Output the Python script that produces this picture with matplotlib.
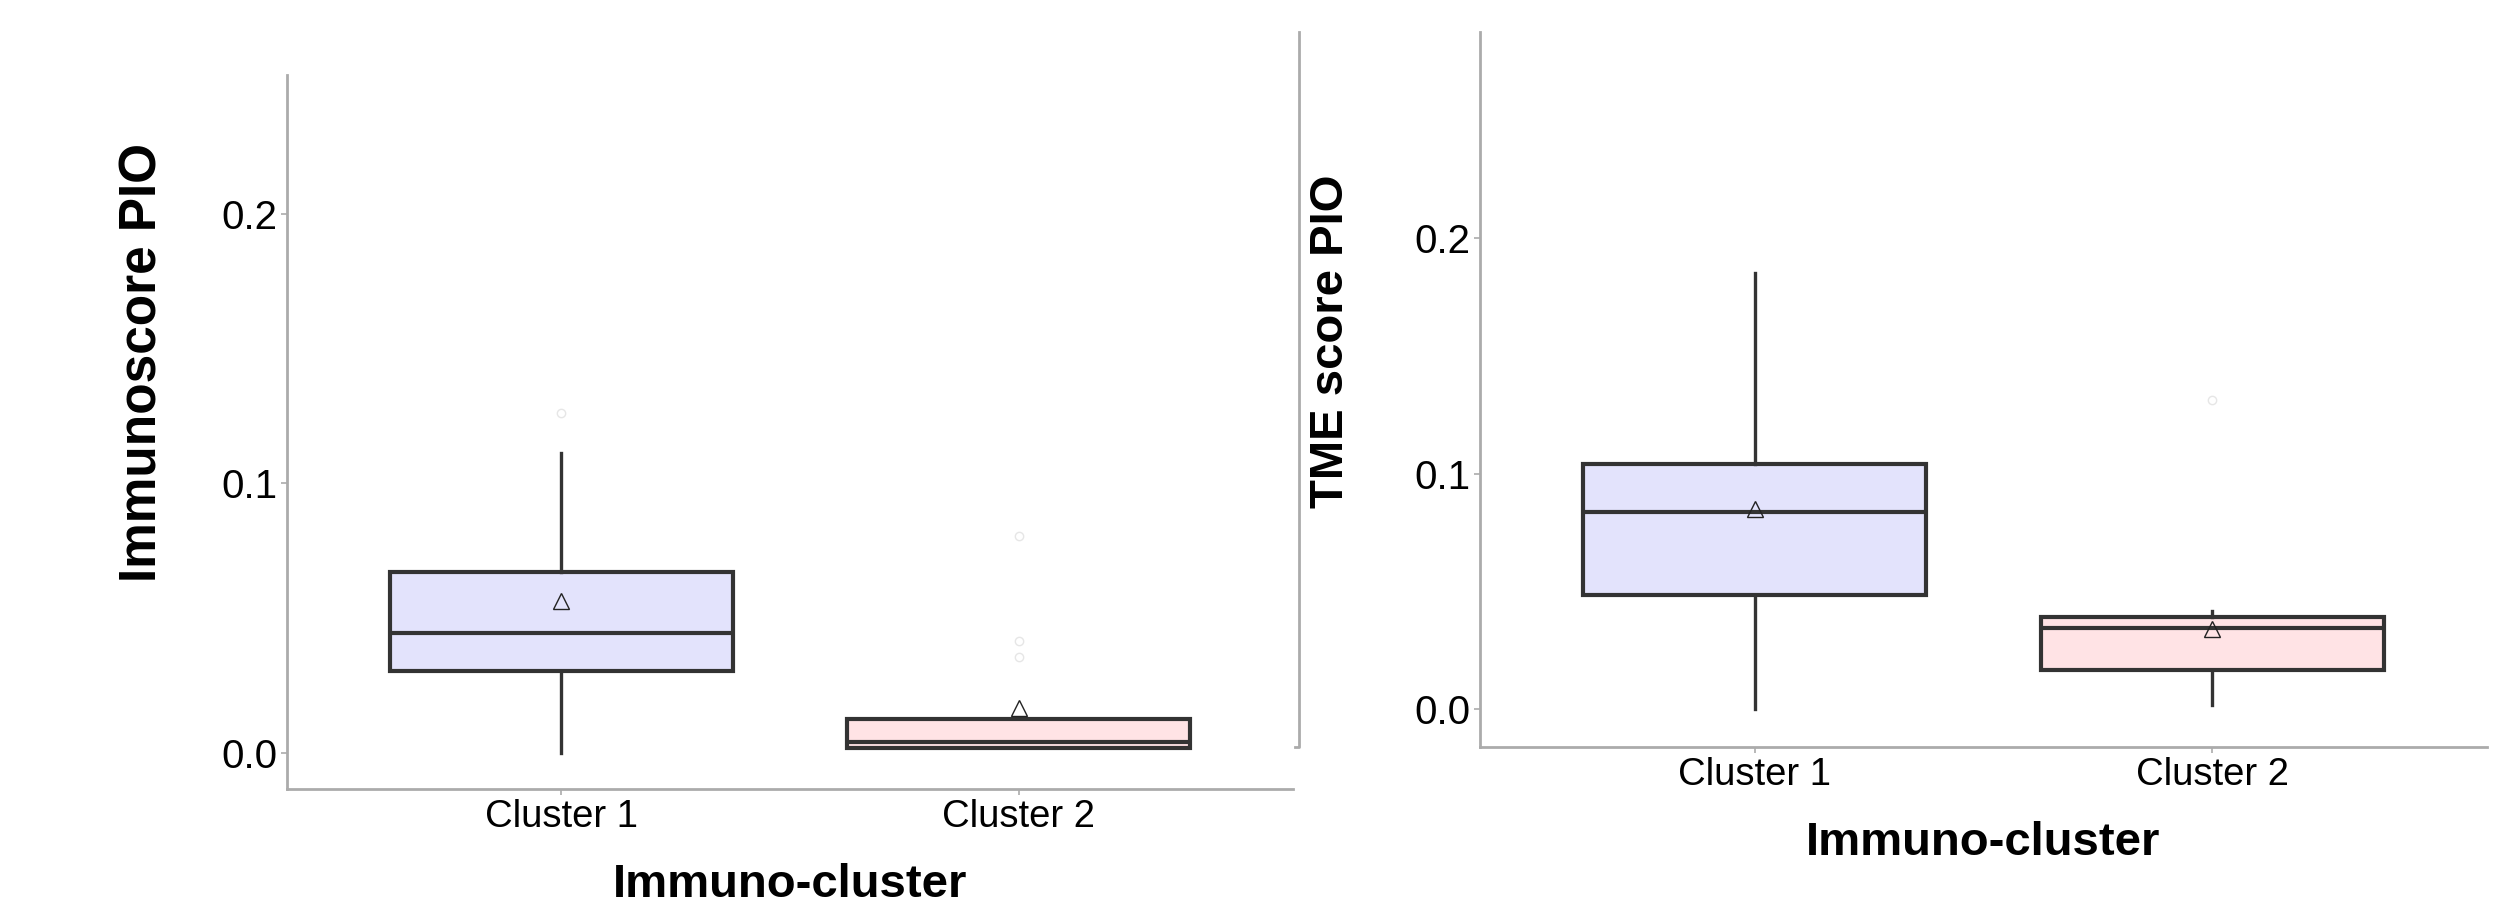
import matplotlib
matplotlib.use("Agg")
import matplotlib.pyplot as plt
from matplotlib.lines import Line2D

plt.rcParams["font.family"] = ["Liberation Sans Narrow", "Liberation Sans", "DejaVu Sans"]

clusters = ["Cluster 1", "Cluster 2"]
box_colors = ["#E3E3FC", "#FFE3E5"]

# Immunoscore PIO summary per cluster
immuno_q1 = [0.0302, 0.0018]
immuno_med = [0.0444, 0.0041]
immuno_q3 = [0.0669, 0.0124]
immuno_lo = [0.0, 0.0016]
immuno_hi = [0.1112, 0.0124]
immuno_mean = [0.0562, 0.0166]
immuno_out = [[0.126], [0.0805, 0.0414, 0.0355]]

# TME score PIO summary per cluster
tme_q1 = [0.0486, 0.0169]
tme_med = [0.0838, 0.0345]
tme_q3 = [0.104, 0.0392]
tme_lo = [0.0, 0.002]
tme_hi = [0.185, 0.0419]
tme_mean = [0.085, 0.0340]
tme_out = [[], [0.131]]

yticks = [0.0, 0.1, 0.2]
axis_grey = "#ABABAB"
line_dark = "#333333"


def draw_panel(ax, q1, med, q3, lo, hi, mean, out, ylabel, ylabel_size, ylim, ylab_pos):
    stats = []
    for i in range(len(clusters)):
        stats.append(dict(q1=q1[i], med=med[i], q3=q3[i], whislo=lo[i],
                          whishi=hi[i], mean=mean[i], fliers=out[i]))
    bp = ax.bxp(stats, positions=[1, 2], widths=0.75, patch_artist=True,
                showmeans=True, showcaps=False,
                boxprops=dict(edgecolor=line_dark, linewidth=3.0),
                medianprops=dict(color=line_dark, linewidth=3.0),
                whiskerprops=dict(color=line_dark, linewidth=2.4),
                meanprops=dict(marker="^", markerfacecolor="none",
                               markeredgecolor="#222222", markeredgewidth=1.0,
                               markersize=11),
                flierprops=dict(marker="o", markerfacecolor="none",
                                markeredgecolor="#E6E6E6", markersize=6,
                                markeredgewidth=1.0))
    for patch, c in zip(bp["boxes"], box_colors):
        patch.set_facecolor(c)

    ax.set_xlim(0.4, 2.6)
    ax.set_ylim(*ylim)
    ax.set_xticks([1, 2])
    ax.set_xticklabels(clusters, fontsize=27.5)
    ax.set_yticks(yticks)
    ax.set_yticklabels([f"{t:.1f}" for t in yticks], fontsize=29)
    ax.tick_params(colors=axis_grey, labelcolor="black", length=4, width=1.2, pad=3)

    for s in ["top", "right"]:
        ax.spines[s].set_visible(False)
    for s in ["left", "bottom"]:
        ax.spines[s].set_color(axis_grey)
        ax.spines[s].set_linewidth(2.0)

    ax.set_xlabel("Immuno-cluster", fontsize=34, fontweight="bold",
                  family=["Liberation Sans Narrow", "Liberation Sans"])
    ax.xaxis.set_label_coords(0.5, -0.134)
    ax.xaxis.label.set_va("center")
    ax.set_ylabel(ylabel, fontsize=ylabel_size, fontweight="bold", family=["Liberation Sans"])
    ax.yaxis.set_label_coords(*ylab_pos)
    ax.yaxis.label.set_va("center")


fig = plt.figure(figsize=(25, 9.06), dpi=100)

ax1 = fig.add_axes([0.1148, 0.1291, 0.4024, 0.788])
draw_panel(ax1, immuno_q1, immuno_med, immuno_q3, immuno_lo, immuno_hi,
           immuno_mean, immuno_out, "Immunoscore PIO", 37, (-0.0135, 0.2514),
           (-0.143, 0.597))

ax2 = fig.add_axes([0.592, 0.1755, 0.4028, 0.789])
draw_panel(ax2, tme_q1, tme_med, tme_q3, tme_lo, tme_hi,
           tme_mean, tme_out, "TME score PIO", 34, (-0.0159, 0.2871),
           (-0.148, 0.568))

# leftover frame edge between the two panels
W, H = 2500, 906
fig.add_artist(Line2D([1299 / W, 1299 / W, 1295 / W],
                      [1 - 32 / H, 1 - 747 / H, 1 - 747 / H],
                      color=axis_grey, linewidth=2.0))

fig.savefig("out.png", dpi=100, facecolor="white")
